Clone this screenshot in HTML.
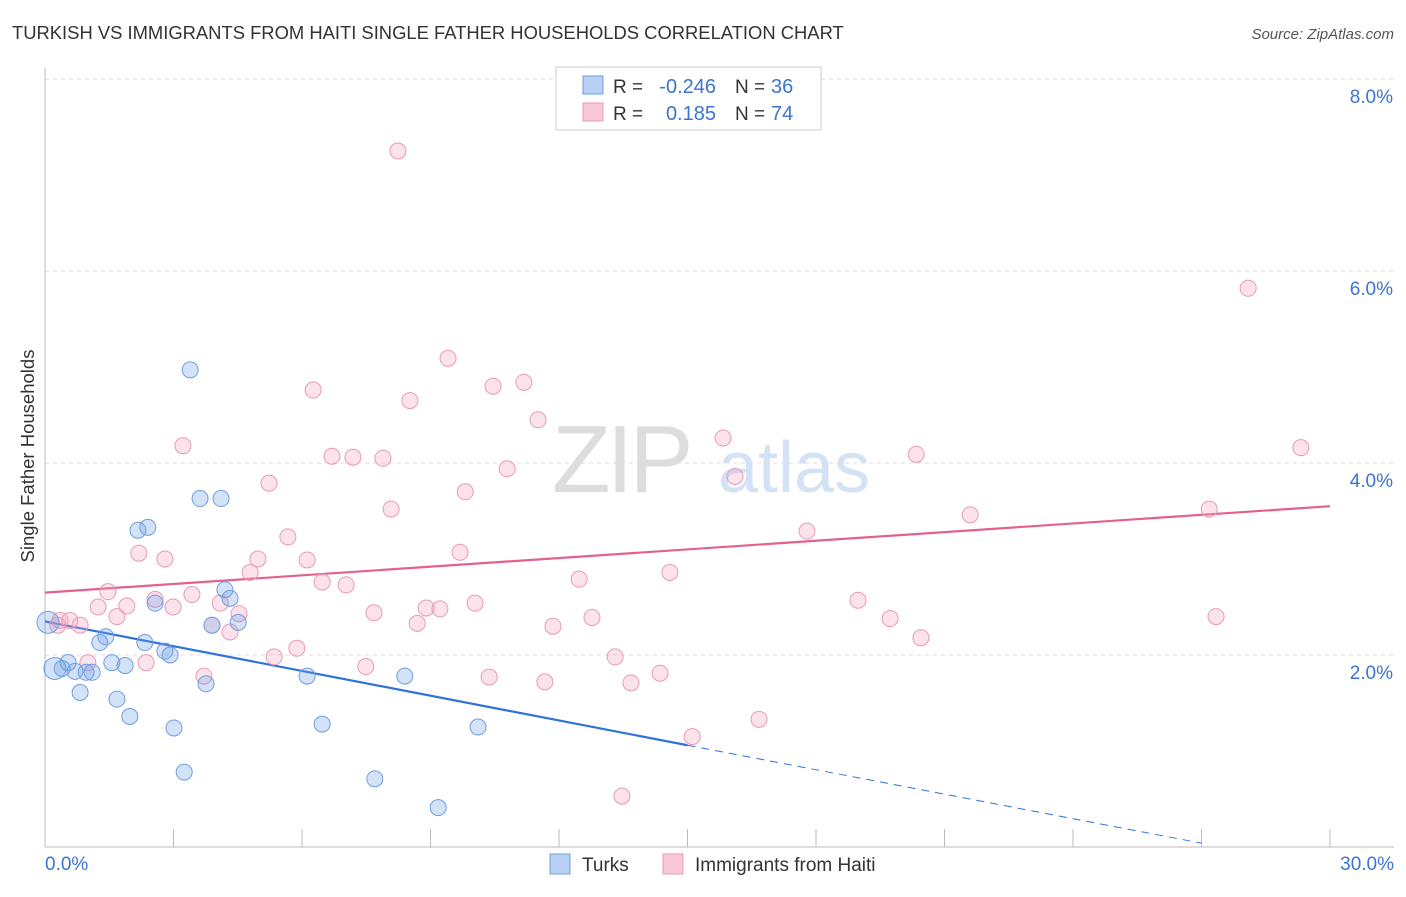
<!DOCTYPE html>
<html><head><meta charset="utf-8"><style>
body{margin:0;background:#fff;font-family:"Liberation Sans",sans-serif;}
svg text{font-family:"Liberation Sans",sans-serif;}
</style></head><body>
<svg id="chart" width="1406" height="892" xmlns="http://www.w3.org/2000/svg">
<text x="12" y="39" font-size="18.4" fill="#333">TURKISH VS IMMIGRANTS FROM HAITI SINGLE FATHER HOUSEHOLDS CORRELATION CHART</text>
<text x="1394" y="39" font-size="15" fill="#555" text-anchor="end" font-style="italic">Source: ZipAtlas.com</text>
<g>
<text x="552" y="492" font-size="96" fill="#ddd" font-family="Liberation Serif" letter-spacing="-4">ZIP</text>
<text x="718" y="492" font-size="72" fill="#d3e2f5">atlas</text>
</g>
<g id="grid"></g><g id="axes"></g><g id="lines"></g><g id="points"></g>
<text x="34" y="456" font-size="18.5" fill="#333" text-anchor="middle" transform="rotate(-90 34 456)">Single Father Households</text>
<g>
<rect x="556" y="67" width="265" height="63" fill="#fff" stroke="#ccc"/>
<rect x="583" y="76" width="20" height="18" fill="#b8d0f3" stroke="#6f9ee0"/>
<rect x="583" y="103" width="20" height="18" fill="#f9c8d8" stroke="#e89ab5"/>
<text x="613" y="93" font-size="19" fill="#333">R =</text>
<text x="716" y="93" font-size="20" fill="#3b74d1" text-anchor="end">-0.246</text>
<text x="735" y="93" font-size="19" fill="#333">N =</text>
<text x="771" y="93" font-size="20" fill="#3b74d1">36</text>
<text x="613" y="120" font-size="19" fill="#333">R =</text>
<text x="716" y="120" font-size="20" fill="#3b74d1" text-anchor="end">0.185</text>
<text x="735" y="120" font-size="19" fill="#333">N =</text>
<text x="771" y="120" font-size="20" fill="#3b74d1">74</text>
</g>
<g>
<rect x="550" y="854" width="20" height="20" fill="#b8d0f3" stroke="#6f9ee0"/>
<text x="582" y="871" font-size="19" fill="#333">Turks</text>
<rect x="663" y="854" width="20" height="20" fill="#f9c8d8" stroke="#e89ab5"/>
<text x="695" y="871" font-size="19" fill="#333">Immigrants from Haiti</text>
</g>
</svg>
<script>
const yTicks=[2,4,6,8];
const yTickLabels=["2.0%","4.0%","6.0%","8.0%"];
const xTickLabels=["0.0%","30.0%"];
const turksX=[0.07,0.23,0.54,0.40,0.70,1.10,0.96,0.82,1.28,1.42,1.56,1.87,1.68,1.98,2.17,2.40,2.57,2.33,2.80,2.92,3.01,3.25,3.39,3.62,4.11,4.20,4.32,3.90,4.51,3.76,6.12,6.47,7.70,8.40,9.18,10.11];
const turksY=[2.34,1.86,1.92,1.86,1.83,1.82,1.82,1.61,2.13,2.19,1.92,1.89,1.54,1.36,3.30,3.33,2.54,2.13,2.04,2.00,1.24,0.78,4.97,3.63,3.63,2.68,2.59,2.31,2.34,1.70,1.78,1.28,0.71,1.78,0.41,1.25];
const haitiX=[8.24,28.09,9.41,6.26,10.46,11.18,8.52,11.51,3.22,15.83,6.70,7.19,7.89,20.34,29.32,10.79,16.11,5.23,9.81,8.08,21.60,27.18,5.67,17.79,2.19,2.80,9.69,4.97,6.12,4.79,14.59,6.47,7.03,12.47,1.47,3.43,2.57,1.24,1.91,2.99,4.09,4.53,1.68,0.35,0.58,0.82,7.68,8.90,9.22,10.04,12.77,18.98,19.73,27.34,3.90,4.32,8.69,11.86,5.88,20.45,1.00,2.36,5.35,7.49,13.31,3.71,10.37,11.67,13.68,14.36,15.11,16.67,13.47,0.30];
const haitiY=[7.25,5.82,5.09,4.76,4.80,4.84,4.65,4.45,4.18,4.26,4.07,4.06,4.05,4.09,4.16,3.94,3.86,3.79,3.70,3.52,3.46,3.52,3.23,3.29,3.06,3.00,3.07,3.00,2.99,2.86,2.86,2.76,2.73,2.79,2.66,2.63,2.58,2.50,2.51,2.50,2.54,2.43,2.40,2.36,2.36,2.31,2.44,2.49,2.48,2.54,2.39,2.57,2.38,2.40,2.31,2.24,2.33,2.30,2.07,2.18,1.92,1.92,1.98,1.88,1.98,1.78,1.77,1.72,1.71,1.81,1.15,1.33,0.53,2.31];
const turksTrendX=[0,15,27];
const turksTrendY=[2.35,1.06,0.04];
const haitiTrendX=[0,30];
const haitiTrendY=[2.65,3.55];

const NS="http://www.w3.org/2000/svg";
const X0=45,X1=1330,Y0=847,PX=(X1-X0)/30,PY=96;
const sx=v=>X0+v*PX, sy=v=>Y0-v*PY;
function mk(tag,attrs,parent){const e=document.createElementNS(NS,tag);for(const k in attrs)e.setAttribute(k,attrs[k]);parent.appendChild(e);return e;}
const grid=document.getElementById('grid'),axes=document.getElementById('axes'),lines=document.getElementById('lines'),pts=document.getElementById('points');
yTicks.forEach((t,i)=>{
 const g=mk('line',{x1:X0,x2:1394,y1:sy(t),y2:sy(t),stroke:'#ddd','stroke-dasharray':'4,4'},grid);
 
 
 const l=mk('text',{x:1393,y:sy(t)+24,'font-size':19,fill:'#3b74d1','text-anchor':'end'},axes);
 l.textContent=yTickLabels[i];
 
 
});
const ax=mk('line',{x1:X0,x2:X0,y1:68,y2:Y0,stroke:'#bbb'},axes);


const bx=mk('line',{x1:X0,x2:1394,y1:Y0,y2:Y0,stroke:'#bbb'},axes);


for(let i=0;i<=10;i++){
 const t=mk('line',{x1:sx(i*3),x2:sx(i*3),y1:Y0,y2:829,stroke:'#bbb'},axes);
 
 
}
[[0,'start',45],[30,'end',1394]].forEach((d,i)=>{
 const l=mk('text',{x:d[2],y:870,'font-size':19,fill:'#3b74d1','text-anchor':d[1]},axes);
 l.textContent=xTickLabels[i];
 
 
});
const tb=mk('line',{x1:sx(turksTrendX[0]),y1:sy(turksTrendY[0]),x2:sx(turksTrendX[1]),y2:sy(turksTrendY[1]),stroke:'#2f72d8','stroke-width':2.2},lines);


const td=mk('line',{x1:sx(turksTrendX[1]),y1:sy(turksTrendY[1]),x2:sx(turksTrendX[2]),y2:sy(turksTrendY[2]),stroke:'#2f72d8','stroke-width':1,'stroke-dasharray':'8,6'},lines);


const hl=mk('line',{x1:sx(haitiTrendX[0]),y1:sy(haitiTrendY[0]),x2:sx(haitiTrendX[1]),y2:sy(haitiTrendY[1]),stroke:'#e4618d','stroke-width':2.2},lines);


haitiX.forEach((v,i)=>{
 const c=mk('circle',{cx:sx(v),cy:sy(haitiY[i]),r:8,fill:'rgba(244,160,190,0.3)',stroke:'#e89ab5','stroke-width':1},pts);
 
 
});
turksX.forEach((v,i)=>{
 const c=mk('circle',{cx:sx(v),cy:sy(turksY[i]),r:i<2?11:8,fill:'rgba(110,160,230,0.3)',stroke:'#6f9ee0','stroke-width':1},pts);
 
 
});
</script>
</body></html>
